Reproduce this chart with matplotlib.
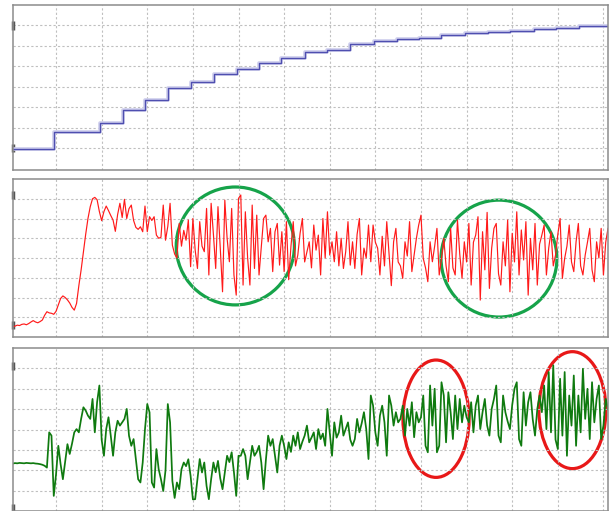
import numpy as np
import matplotlib
matplotlib.use("Agg")
import matplotlib.pyplot as plt
from matplotlib.patches import Ellipse

# ----------------------------------------------------
# Data (x in grid units)
# ----------------------------------------------------
# top panel: staircase
step_t = [0.05, 0.95, 1.96, 2.47, 2.96, 3.46, 3.96, 4.46, 4.97, 5.46, 5.94, 6.46,
          6.95, 7.45, 7.98, 8.47, 8.96, 9.45, 9.97, 10.47, 10.95, 11.47, 11.97, 12.46]
step_level = [0.97, 1.81, 2.22, 2.88, 3.33, 3.95, 4.22, 4.61, 4.87, 5.18, 5.41, 5.69,
              5.80, 6.08, 6.23, 6.34, 6.40, 6.54, 6.63, 6.67, 6.73, 6.81, 6.88, 6.98]

# middle / bottom panel: sampled every 0.05 starting at 0.05
t0 = 0.05
dt = 0.05

red = [
    0.52, 0.55, 0.60, 0.58, 0.64, 0.66, 0.62, 0.68, 0.76, 0.83,
    0.76, 0.72, 0.78, 0.86, 1.10, 1.28, 1.22, 1.20, 1.15, 1.30,
    1.62, 1.95, 2.08, 2.00, 1.88, 1.72, 1.50, 1.36, 1.70, 2.60,
    3.40, 4.30, 5.20, 6.00, 6.60, 7.00, 7.07, 6.95, 6.35, 5.89,
    6.35, 6.63, 6.40, 6.15, 5.92, 5.35, 6.20, 6.77, 6.05, 6.97,
    6.00, 6.50, 6.68, 5.90, 5.55, 5.45, 5.58, 5.33, 6.63, 5.33,
    6.09, 5.90, 6.09, 5.16, 5.00, 5.05, 6.68, 4.90, 5.60, 6.77,
    4.65, 4.20, 4.00, 5.75, 4.60, 5.40, 4.90, 5.92, 3.56, 6.00,
    4.40, 3.47, 5.84, 4.60, 4.32, 6.51, 3.14, 6.77, 5.20, 3.47,
    6.60, 4.50, 2.29, 6.93, 5.00, 3.81, 6.51, 3.14, 2.12, 7.02,
    7.19, 2.63, 6.34, 4.00, 2.63, 6.68, 3.47, 6.17, 3.14, 4.60,
    6.00, 6.17, 4.82, 5.50, 3.31, 5.33, 5.75, 3.64, 5.33, 3.31,
    5.84, 2.90, 4.60, 5.84, 3.60, 4.15, 5.25, 6.00, 3.80, 4.32,
    4.82, 3.50, 5.67, 4.40, 5.16, 3.14, 6.00, 4.00, 6.34, 4.15,
    4.82, 3.81, 5.33, 3.60, 5.00, 3.47, 4.32, 5.84, 3.64, 4.82,
    3.47, 5.20, 6.00, 3.14, 4.50, 4.00, 5.67, 3.81, 5.67, 4.80,
    4.50, 3.14, 5.10, 3.60, 5.84, 4.20, 2.60, 4.82, 5.50, 3.80,
    3.60, 2.97, 4.82, 4.10, 5.84, 3.31, 4.15, 5.00, 5.67, 6.17,
    3.98, 3.50, 2.80, 4.82, 3.81, 4.60, 5.50, 3.14, 3.98, 4.99,
    3.60, 2.80, 5.50, 3.50, 3.14, 5.92, 4.20, 2.97, 4.82, 3.80,
    5.75, 2.63, 4.80, 5.16, 6.09, 1.87, 5.33, 3.40, 6.31, 2.46,
    4.50, 5.50, 5.75, 3.20, 2.63, 4.82, 3.60, 5.92, 2.29, 5.25,
    3.80, 6.34, 3.14, 5.42, 3.90, 5.84, 2.12, 4.99, 3.40, 5.75,
    2.63, 4.70, 5.16, 5.67, 3.14, 4.50, 5.33, 3.60, 4.15, 5.20,
    6.00, 2.97, 3.98, 4.60, 5.67, 3.80, 3.31, 4.82, 5.75, 3.60,
    3.14, 4.15, 4.80, 5.50, 3.40, 2.80, 4.82, 4.00, 5.50, 3.14,
    4.80, 5.50,
]

green = [
    2.33, 2.35, 2.34, 2.36, 2.35, 2.34, 2.36, 2.35, 2.34, 2.35,
    2.33, 2.32, 2.30, 2.27, 2.22, 2.13, 3.86, 3.70, 0.74, 1.80,
    3.20, 2.30, 1.56, 2.40, 3.28, 2.80, 3.30, 3.86, 4.02, 3.86,
    4.52, 5.09, 4.93, 4.68, 4.52, 5.50, 3.86, 5.34, 6.16, 3.50,
    2.71, 4.02, 4.60, 3.69, 2.71, 3.86, 4.43, 4.19, 4.35, 4.52,
    5.01, 3.69, 3.20, 3.53, 2.54, 1.56, 1.40, 2.38, 4.02, 5.25,
    4.84, 1.40, 1.15, 3.04, 2.05, 1.56, 0.98, 2.00, 5.25, 4.35,
    1.48, 0.64, 1.40, 1.07, 2.05, 2.38, 2.20, 2.54, 1.72, 0.57,
    0.58, 1.56, 2.55, 1.89, 2.38, 1.23, 0.58, 1.56, 2.38, 1.90,
    2.46, 1.60, 1.07, 1.90, 2.71, 2.40, 2.88, 1.90, 0.74, 2.71,
    2.71, 3.04, 2.71, 1.56, 2.38, 3.20, 2.71, 2.90, 3.20, 2.38,
    1.07, 2.50, 3.70, 3.20, 3.53, 2.71, 1.89, 3.20, 3.70, 3.20,
    2.55, 3.37, 2.90, 3.70, 3.20, 3.86, 3.04, 3.40, 3.70, 4.19,
    3.37, 3.60, 3.86, 3.04, 4.02, 3.53, 3.80, 3.20, 5.01, 3.86,
    2.71, 4.35, 3.60, 3.86, 4.68, 3.70, 4.02, 4.35, 3.50, 3.20,
    3.53, 4.52, 3.86, 4.30, 4.85, 4.02, 2.55, 5.67, 5.17, 3.86,
    3.20, 4.68, 5.17, 4.35, 2.71, 5.67, 5.17, 4.19, 4.85, 4.35,
    4.52, 5.17, 3.70, 5.01, 4.19, 5.34, 3.62, 4.85, 4.35, 4.60,
    5.67, 3.20, 2.88, 6.16, 4.19, 6.00, 2.88, 3.20, 6.32, 5.67,
    3.37, 5.83, 4.85, 3.53, 5.67, 4.02, 5.50, 4.35, 5.17, 4.60,
    4.35, 5.34, 3.86, 5.17, 5.67, 4.02, 4.85, 5.50, 4.20, 3.70,
    5.01, 5.50, 6.16, 3.70, 3.37, 5.67, 4.85, 4.40, 4.02, 5.20,
    6.00, 6.32, 3.53, 3.20, 5.83, 4.19, 5.34, 5.83, 4.50, 3.70,
    5.01, 5.67, 4.85, 6.16, 4.02, 6.82, 3.86, 7.15, 3.50, 3.04,
    6.49, 3.70, 6.82, 2.71, 5.67, 4.19, 6.65, 3.20, 5.67, 3.86,
    6.98, 4.52, 6.00, 3.53, 6.32, 4.35, 5.50, 6.16, 3.53, 4.20,
    5.50, 4.99,
]

# highlight ellipses: (x centre, y centre, width, height) in data units
green_rings = [(4.93, 4.61, 2.59, 5.97), (10.71, 3.97, 2.54, 5.92)]
red_rings = [(9.33, 4.53, 1.45, 5.76), (12.32, 4.95, 1.47, 5.74)]

# ----------------------------------------------------
# Figure
# ----------------------------------------------------
W, H = 613, 511
fig = plt.figure(figsize=(W / 100, H / 100), dpi=100)


def px_axes(top, bottom, left=12.7, right=608):
    return fig.add_axes([left / W, 1 - bottom / H, (right - left) / W, (bottom - top) / H])


ax1 = px_axes(5, 170)
ax2 = px_axes(179, 337)
ax3 = px_axes(348, 511)

for ax in (ax1, ax2, ax3):
    ax.set_xlim(0.05, 13.1)
    ax.set_ylim(0, 8)
    ax.set_xticks(range(1, 14))
    ax.set_yticks(range(1, 8))
    ax.tick_params(length=0, labelleft=False, labelbottom=False)
    ax.grid(True, color="#bfbfbf", linestyle=(0, (2, 2)), linewidth=0.8)
    for s in ax.spines.values():
        s.set_color("#8c8c8c")
        s.set_linewidth(1.1)
ax1.set_ylim(-0.07, 8)

# small dark marks on the left edge
marks = {ax1: [7.0, 1.0], ax2: [7.2, 0.6], ax3: [7.1, 0.15]}
for ax, ys in marks.items():
    for yv in ys:
        ax.plot([0, 0], [yv - 0.2, yv + 0.2], color="#555555", lw=2.5,
                transform=ax.get_yaxis_transform(), clip_on=False, solid_capstyle="butt")

# top: staircase
st_x = step_t + [13.1]
st_y = step_level + [step_level[-1]]
ax1.step(st_x, st_y, where="post", color="#cdcdec", lw=2.6)
ax1.step(st_x, st_y, where="post", color="#4f4fb0", lw=1.0)

# middle: red signal
xr = t0 + dt * np.arange(len(red))
ax2.plot(xr, red, color="#ff1a1a", lw=0.85)
for cx, cy, w, h in green_rings:
    ax2.add_patch(Ellipse((cx, cy), w, h, fill=False, edgecolor="#16a34a", lw=2.3))

# bottom: green signal
xg = t0 + dt * np.arange(len(green))
ax3.plot(xg, green, color="#0f7a0f", lw=1.25)
for cx, cy, w, h in red_rings:
    ax3.add_patch(Ellipse((cx, cy), w, h, fill=False, edgecolor="#e81818", lw=2.3,
                          clip_on=False))

fig.savefig("out.png", dpi=100)
